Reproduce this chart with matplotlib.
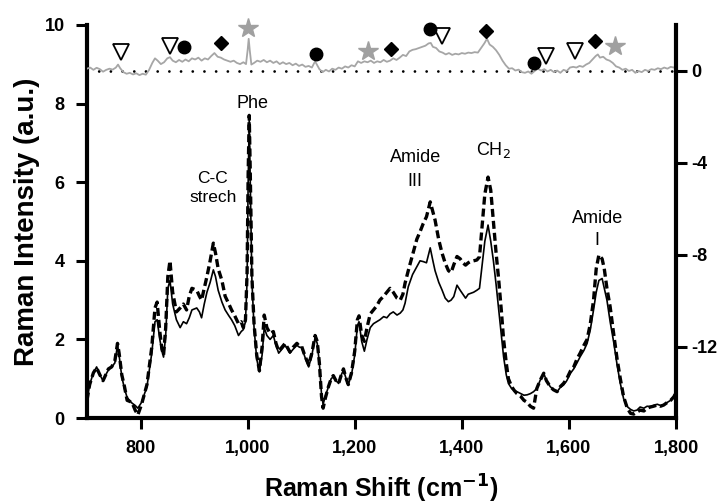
import matplotlib.pyplot as plt

# wavenumbers (cm-1) shared by the two spectra
wn = [700, 705, 712, 718, 724, 730, 735, 740, 746, 752, 757, 760, 765, 770, 775, 784, 790, 795,
      802, 812, 821, 827, 831, 836, 840, 843, 847, 851, 855, 860, 867, 874, 880, 886, 891, 896,
      905, 910, 914, 919, 924, 930, 936, 940, 945, 952, 958, 965, 970, 976, 983, 988, 992, 996,
      999, 1001, 1003, 1005, 1008, 1012, 1017, 1022, 1027, 1031, 1036, 1042, 1048, 1053, 1058,
      1064, 1070, 1075, 1079, 1085, 1092, 1097, 1101, 1107, 1114, 1120, 1126, 1130, 1134, 1138,
      1141, 1145, 1151, 1156, 1160, 1165, 1170, 1175, 1179, 1184, 1188, 1194, 1200, 1205, 1208,
      1213, 1218, 1223, 1229, 1235, 1241, 1247, 1254, 1260, 1266, 1272, 1279, 1285, 1290, 1294,
      1300, 1308, 1316, 1322, 1328, 1334, 1341, 1346, 1350, 1357, 1363, 1369, 1375, 1380, 1385,
      1391, 1397, 1402, 1407, 1412, 1416, 1422, 1428, 1433, 1438, 1443, 1449, 1454, 1459, 1464,
      1469, 1474, 1478, 1483, 1487, 1493, 1498, 1503, 1510, 1516, 1522, 1528, 1534, 1540, 1546,
      1553, 1558, 1565, 1571, 1578, 1584, 1590, 1596, 1603, 1609, 1615, 1621, 1628, 1634, 1640,
      1646, 1651, 1656, 1662, 1666, 1671, 1677, 1684, 1690, 1696, 1702, 1709, 1715, 1721, 1727,
      1733, 1740, 1746, 1752, 1758, 1765, 1771, 1777, 1784, 1790, 1796, 1800]

solid = [0.45, 0.85, 1.15, 1.30, 1.10, 0.95, 1.10, 1.22, 1.30, 1.40, 1.85, 1.60, 1.05, 0.75, 0.52,
         0.38, 0.32, 0.25, 0.40, 0.80, 1.65, 2.45, 2.50, 2.00, 1.70, 1.55, 2.10, 3.30, 3.50, 2.90,
         2.50, 2.30, 2.45, 2.40, 2.55, 2.75, 2.80, 2.70, 2.55, 2.90, 3.20, 3.45, 3.77, 3.60, 3.25,
         2.95, 2.75, 2.60, 2.50, 2.35, 2.10, 2.20, 2.25, 2.45, 3.5, 6.0, 7.6, 6.0, 3.5, 2.3, 1.5,
         1.18, 1.60, 2.30, 2.10, 2.00, 2.10, 1.85, 1.65, 1.75, 1.85, 1.75, 1.65, 1.75, 1.85, 1.80,
         1.80, 1.55, 1.30, 1.60, 2.05, 1.90, 1.40, 0.60, 0.35, 0.55, 0.80, 1.00, 1.05, 0.95, 0.88,
         1.10, 1.22, 1.00, 0.85, 1.10, 1.60, 2.35, 2.45, 1.95, 1.70, 2.00, 2.30, 2.40, 2.45, 2.50,
         2.58, 2.55, 2.65, 2.70, 2.62, 2.67, 2.75, 2.92, 3.34, 3.65, 3.85, 4.00, 3.98, 3.95, 4.33,
         4.00, 3.75, 3.45, 3.26, 3.05, 2.96, 3.00, 3.09, 3.38, 3.25, 3.15, 3.05, 3.15, 3.17, 3.20,
         3.25, 3.30, 3.90, 4.50, 4.91, 4.50, 4.00, 3.40, 2.75, 2.10, 1.56, 1.10, 0.88, 0.75, 0.70,
         0.67, 0.62, 0.58, 0.59, 0.62, 0.67, 0.75, 0.95, 1.14, 0.95, 0.80, 0.72, 0.67, 0.78, 0.84,
         0.95, 1.14, 1.25, 1.40, 1.56, 1.72, 1.90, 2.25, 2.75, 3.20, 3.50, 3.55, 3.30, 3.00, 2.45,
         1.90, 1.35, 0.88, 0.50, 0.29, 0.22, 0.18, 0.20, 0.28, 0.25, 0.30, 0.29, 0.32, 0.35, 0.32,
         0.33, 0.40, 0.45, 0.54, 0.65]

dashed = [0.45, 0.85, 1.15, 1.28, 1.10, 0.95, 1.10, 1.25, 1.30, 1.45, 1.90, 1.65, 1.10, 0.80, 0.45,
          0.40, 0.20, 0.08, 0.35, 0.85, 1.80, 2.80, 2.95, 2.20, 1.75, 1.60, 2.30, 3.60, 4.00, 3.20,
          2.70, 2.80, 2.90, 2.75, 3.10, 3.30, 3.25, 3.10, 3.00, 3.30, 3.60, 4.00, 4.45, 4.20, 3.80,
          3.50, 3.10, 2.90, 2.75, 2.60, 2.40, 2.45, 2.30, 2.50, 3.7, 6.2, 7.7, 6.2, 3.6, 2.4, 1.6,
          1.20, 1.80, 2.62, 2.30, 2.15, 2.20, 1.90, 1.70, 1.80, 1.90, 1.78, 1.68, 1.80, 1.90, 1.82,
          1.82, 1.58, 1.35, 1.65, 2.10, 1.95, 1.40, 0.55, 0.25, 0.50, 0.80, 1.00, 1.08, 0.95, 0.88,
          1.10, 1.25, 1.00, 0.85, 1.15, 1.70, 2.50, 2.60, 2.10, 1.95, 2.30, 2.65, 2.75, 2.85, 3.00,
          3.10, 3.20, 3.30, 3.20, 3.05, 3.00, 3.15, 3.43, 3.75, 4.15, 4.55, 4.74, 4.95, 5.12, 5.50,
          5.25, 5.04, 4.53, 4.20, 3.94, 3.75, 3.70, 3.90, 4.11, 4.05, 3.95, 3.89, 3.95, 3.98, 4.00,
          4.02, 4.10, 4.90, 5.70, 6.13, 5.80, 5.00, 4.20, 3.50, 2.70, 2.00, 1.40, 1.00, 0.80, 0.70,
          0.62, 0.55, 0.45, 0.40, 0.30, 0.25, 0.75, 0.95, 1.14, 0.95, 0.80, 0.72, 0.67, 0.80, 0.88,
          1.00, 1.20, 1.30, 1.50, 1.65, 1.85, 2.00, 2.40, 3.00, 3.80, 4.15, 4.05, 3.80, 3.30, 2.83,
          2.10, 1.50, 1.00, 0.55, 0.25, 0.12, 0.10, 0.15, 0.20, 0.18, 0.25, 0.28, 0.30, 0.33, 0.30,
          0.33, 0.40, 0.45, 0.54, 0.65]

# difference spectrum (right axis)
diff_wn = [700, 706, 712, 718, 724, 730, 736, 742, 748, 754, 758, 762, 768, 774, 780, 786, 792, 798,
           804, 810, 816, 822, 827, 832, 838, 844, 850, 855, 860, 866, 872, 878, 884, 890, 896, 902,
           908, 914, 920, 926, 932, 938, 944, 950, 956, 962, 968, 974, 980, 986, 992, 997, 1000,
           1002, 1004, 1007, 1012, 1018, 1024, 1030, 1036, 1042, 1048, 1054, 1060, 1066, 1072, 1078,
           1084, 1090, 1096, 1102, 1108, 1114, 1120, 1126, 1130, 1134, 1140, 1146, 1152, 1158, 1164,
           1170, 1176, 1182, 1188, 1194, 1200, 1206, 1212, 1218, 1224, 1230, 1236, 1242, 1248, 1254,
           1260, 1266, 1272, 1278, 1284, 1290, 1296, 1302, 1308, 1314, 1320, 1326, 1332, 1338, 1342,
           1346, 1352, 1358, 1364, 1370, 1376, 1382, 1388, 1394, 1400, 1406, 1412, 1418, 1424, 1430,
           1436, 1442, 1447, 1452, 1458, 1464, 1470, 1476, 1482, 1488, 1494, 1500, 1506, 1512, 1518,
           1524, 1530, 1536, 1542, 1548, 1554, 1560, 1566, 1572, 1578, 1584, 1590, 1596, 1602, 1608,
           1614, 1620, 1626, 1632, 1638, 1644, 1650, 1654, 1658, 1664, 1670, 1676, 1682, 1688, 1694,
           1700, 1706, 1712, 1718, 1724, 1730, 1736, 1742, 1748, 1754, 1760, 1766, 1772, 1778, 1784,
           1790, 1796, 1800]
diff = [0.10, 0.15, 0.05, 0.14, 0.08, -0.03, 0.05, 0.10, 0.06, 0.15, 0.28, 0.12, -0.05, -0.12, -0.08,
        -0.15, -0.10, -0.18, -0.12, -0.16, 0.05, 0.35, 0.55, 0.45, 0.30, 0.38, 0.55, 0.60, 0.45, 0.38,
        0.48, 0.40, 0.50, 0.42, 0.55, 0.50, 0.58, 0.45, 0.55, 0.50, 0.65, 0.78, 0.62, 0.58, 0.50, 0.45,
        0.40, 0.45, 0.35, 0.30, 0.38, 0.30, 0.9, 1.40, 0.9, 0.28, 0.35, 0.45, 0.40, 0.48, 0.38, 0.45,
        0.35, 0.42, 0.30, 0.38, 0.30, 0.35, 0.25, 0.32, 0.22, 0.28, 0.18, 0.22, 0.15, 0.42, 0.25, 0.08,
        -0.05, 0.05, -0.02, 0.10, 0.05, 0.15, 0.10, 0.20, 0.15, 0.25, 0.20, 0.42, 0.35, 0.42, 0.38,
        0.45, 0.35, 0.42, 0.38, 0.48, 0.40, 0.45, 0.55, 0.48, 0.58, 0.70, 0.65, 0.85, 0.92, 0.95, 1.00,
        1.05, 1.10, 1.20, 1.22, 1.05, 1.00, 0.85, 0.80, 0.72, 0.78, 0.70, 0.75, 0.72, 0.78, 0.75, 0.80,
        0.78, 0.82, 0.80, 1.00, 1.20, 1.40, 1.15, 1.05, 0.90, 0.70, 0.45, 0.25, 0.10, 0.12, 0.02, 0.06,
        -0.05, -0.08, -0.02, -0.12, 0.00, 0.10, 0.02, 0.08, -0.02, 0.05, -0.05, 0.02, -0.08, 0.05, 0.00,
        0.15, 0.18, 0.15, 0.22, 0.18, 0.28, 0.35, 0.50, 0.65, 0.72, 0.58, 0.62, 0.50, 0.45, 0.35, 0.20,
        0.15, 0.05, 0.10, 0.00, 0.05, -0.08, 0.00, -0.05, 0.05, 0.00, 0.08, 0.05, 0.12, 0.08, 0.15,
        0.10, 0.18, 0.15, 0.22]

# peak markers (wavenumber, right-axis value)
tri_wn = [764, 855, 1363, 1557, 1611]
tri_y = [0.84, 1.10, 1.53, 0.67, 0.88]
circ_wn = [882, 1127, 1340, 1535]
circ_y = [1.06, 0.74, 1.83, 0.33]
diam_wn = [950, 1268, 1445, 1648]
diam_y = [1.20, 0.94, 1.75, 1.32]
star_wn = [1000, 1225, 1686]
star_y = [1.86, 0.87, 1.10]

plt.rcParams['font.family'] = ['Liberation Sans', 'DejaVu Sans']
plt.rcParams['axes.unicode_minus'] = False

fig = plt.figure(figsize=(7.23, 5.04), dpi=100)
ax = fig.add_axes([0.1203, 0.1706, 0.8147, 0.7798])
ax2 = ax.twinx()

ax.plot(wn, solid, color='black', lw=1.2, zorder=3)
ax.plot(wn, dashed, color='black', lw=2.4, linestyle=(0, (2.4, 1.2)), zorder=4)

ax2.plot(diff_wn, diff, color='#a6a6a6', lw=1.3, zorder=2)
ax2.plot([700, 1800], [0, 0], color='black', lw=2, linestyle=(0, (0.01, 4.2)),
         dash_capstyle='round', zorder=1)
ax2.plot(tri_wn, tri_y, linestyle='none', marker='v', ms=11, mfc='white', mec='black', mew=1.3,
         clip_on=False)
ax2.plot(circ_wn, circ_y, linestyle='none', marker='o', ms=9, color='black', clip_on=False)
ax2.plot(diam_wn, diam_y, linestyle='none', marker='D', ms=7.5, color='black', clip_on=False)
ax2.plot(star_wn, star_y, linestyle='none', marker='*', ms=15, color='#a0a0a0', clip_on=False)

ax.set_xlim(700, 1800)
ax.set_ylim(0, 10)
ax2.set_ylim(-15.09, 2.0)
ax.set_xticks([800, 1000, 1200, 1400, 1600, 1800])
ax.set_xticklabels(['800', '1,000', '1,200', '1,400', '1,600', '1,800'])
ax.set_yticks([0, 2, 4, 6, 8, 10])
ax2.set_yticks([0, -4, -8, -12])

for a in (ax, ax2):
    a.spines['top'].set_visible(False)
    for s in a.spines.values():
        s.set_linewidth(3)
ax.spines['right'].set_visible(False)
ax2.spines['left'].set_visible(False)
ax2.spines['bottom'].set_visible(False)

ax.tick_params(axis='both', length=8, width=2.2, labelsize=13, direction='out')
ax.tick_params(axis='x', pad=8)
ax.tick_params(axis='y', pad=8)
ax2.tick_params(axis='y', length=8, width=2.2, labelsize=13, pad=3)
for lab in ax.get_xticklabels() + ax.get_yticklabels() + ax2.get_yticklabels():
    lab.set_fontweight('bold')

ax.set_xlabel('Raman Shift (cm$^{\\mathbf{-1}}$)', fontsize=18, fontweight='bold')
ax.xaxis.set_label_coords(0.5, -0.14)
ax.set_ylabel('Raman Intensity (a.u.)', fontsize=20, fontweight='bold')
ax.yaxis.set_label_coords(-0.080, 0.5)

ax.text(1010, 8.0, 'Phe', fontsize=13, ha='center', va='center')
ax.text(935, 5.85, 'C-C\nstrech', fontsize=12.5, ha='center', va='center', linespacing=1.3)
ax.text(1313, 6.32, 'Amide\nIII', fontsize=13, ha='center', va='center', linespacing=1.5)
ax.text(1459, 6.82, 'CH$_2$', fontsize=13, ha='center', va='center')
ax.text(1653, 4.8, 'Amide\nI', fontsize=13, ha='center', va='center', linespacing=1.4)

fig.savefig('out.png', dpi=100)
